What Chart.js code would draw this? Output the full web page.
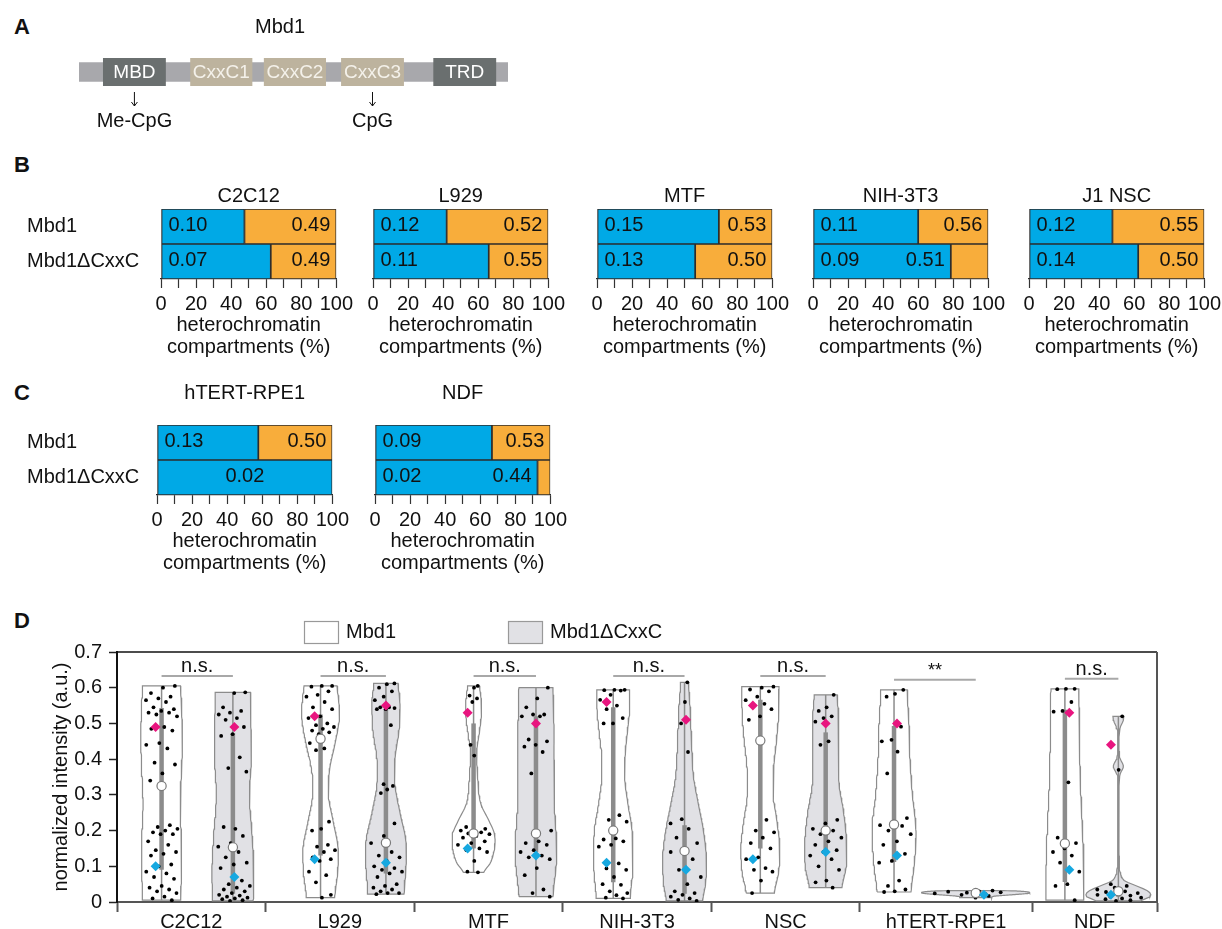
<!DOCTYPE html>
<html>
<head>
<meta charset="utf-8">
<title>Mbd1 heterochromatin compartments</title>
<script src="https://cdn.jsdelivr.net/npm/chart.js@4.4.1/dist/chart.umd.min.js"></script>
<style>
  html, body { margin: 0; padding: 0; background: #fff; }
  body { width: 1222px; height: 929px; position: relative; overflow: hidden;
         font-family: "Liberation Sans", Arial, Helvetica, sans-serif; }
  canvas { position: absolute; }
  .panel { position: absolute; left: 14px; font-weight: bold; font-size: 22px; line-height: 1; color: #111; }
</style>
</head>
<body>
<div class="panel" style="top:16px">A</div>
<div class="panel" style="top:154px">B</div>
<div class="panel" style="top:382px">C</div>
<div class="panel" style="top:610px">D</div>
<script>
// ---- A: Mbd1 domains (residue positions) ----
const proteinLength = 600;
const domainNames = ["MBD", "CxxC1", "CxxC2", "CxxC3", "TRD"];
const domainStart = [34, 156, 259, 367, 496];
const domainEnd = [121, 242, 345, 454, 583];
const domainKind = ["core", "cxxc", "cxxc", "cxxc", "core"];
const bindingDomains = ["MBD", "CxxC3"];
const bindingTargets = ["Me-CpG", "CpG"];

// ---- B / C: heterochromatin compartments ----
const constructs = ["Mbd1", "Mbd1ΔCxxC"];
const barTitles = ["C2C12", "L929", "MTF", "NIH-3T3", "J1 NSC", "hTERT-RPE1", "NDF"];
const lowShareMbd1 = [47.6, 42.0, 69.5, 60.0, 47.6, 57.8, 66.7];
const lowShareDelta = [62.6, 66.0, 56.0, 78.6, 62.3, 100, 92.7];
const lowMeanMbd1 = [0.10, 0.12, 0.15, 0.11, 0.12, 0.13, 0.09];
const lowMeanDelta = [0.07, 0.11, 0.13, 0.09, 0.14, 0.02, 0.02];
const highMeanMbd1 = [0.49, 0.52, 0.53, 0.56, 0.55, 0.50, 0.53];
const highMeanDelta = [0.49, 0.55, 0.50, 0.51, 0.50, null, 0.44];
const shareTicks = [0, 20, 40, 60, 80, 100];

// ---- D: normalized intensity per nucleus ----
const violinGroups = ["C2C12", "L929", "MTF", "NIH-3T3", "NSC", "hTERT-RPE1", "NDF"];
const significance = ["n.s.", "n.s.", "n.s.", "n.s.", "n.s.", "**", "n.s."];
const intensityTicks = [0, 0.1, 0.2, 0.3, 0.4, 0.5, 0.6, 0.7];

const intensityMbd1 = [
  [0.605, 0.60, 0.585, 0.575, 0.57, 0.565, 0.56, 0.545, 0.54, 0.535, 0.53, 0.53, 0.525, 0.52, 0.49, 0.485, 0.48,
   0.445, 0.44, 0.43, 0.39, 0.385, 0.36, 0.34, 0.215, 0.21, 0.205, 0.2, 0.195, 0.19, 0.19, 0.17, 0.16, 0.145,
   0.14, 0.135, 0.13, 0.105, 0.1, 0.085, 0.08, 0.07, 0.065, 0.045, 0.04, 0.035, 0.03, 0.025, 0.015, 0.01, 0.005],
  [0.605, 0.605, 0.603, 0.59, 0.58, 0.575, 0.56, 0.545, 0.54, 0.52, 0.515, 0.5, 0.495, 0.49, 0.485, 0.48, 0.475,
   0.47, 0.445, 0.43, 0.425, 0.225, 0.205, 0.2, 0.16, 0.155, 0.145, 0.14, 0.125, 0.12, 0.115, 0.085, 0.075,
   0.055, 0.02, 0.012],
  [0.605, 0.6, 0.578, 0.57, 0.56, 0.44, 0.41, 0.21, 0.205, 0.2, 0.2, 0.195, 0.192, 0.19, 0.185, 0.18, 0.17,
   0.165, 0.16, 0.15, 0.145, 0.14, 0.115, 0.085, 0.083],
  [0.594, 0.594, 0.593, 0.592, 0.58, 0.566, 0.55, 0.54, 0.515, 0.5, 0.5, 0.243, 0.23, 0.225, 0.178, 0.175,
   0.17, 0.16, 0.155, 0.108, 0.094, 0.09, 0.07, 0.05, 0.048, 0.03, 0.025, 0.019, 0.012, 0.01],
  [0.603, 0.6, 0.595, 0.59, 0.575, 0.565, 0.555, 0.55, 0.54, 0.52, 0.51, 0.23, 0.2, 0.195, 0.18, 0.165, 0.15,
   0.125, 0.12, 0.095, 0.09, 0.085, 0.06, 0.025],
  [0.594, 0.583, 0.575, 0.491, 0.454, 0.45, 0.421, 0.36, 0.235, 0.225, 0.215, 0.213, 0.2, 0.19, 0.17, 0.16,
   0.135, 0.115, 0.11, 0.06, 0.045, 0.035, 0.03, 0.028],
  [0.597, 0.597, 0.596, 0.56, 0.535, 0.533, 0.335, 0.18, 0.165, 0.15, 0.14, 0.13, 0.11, 0.085, 0.05, 0.045, 0.005]
];
const intensityDelta = [
  [0.587, 0.585, 0.545, 0.535, 0.53, 0.525, 0.515, 0.51, 0.49, 0.47, 0.465, 0.405, 0.375, 0.365, 0.205, 0.21,
   0.185, 0.165, 0.155, 0.14, 0.125, 0.11, 0.105, 0.095, 0.06, 0.05, 0.045, 0.04, 0.035, 0.03, 0.025, 0.02,
   0.018, 0.015, 0.012, 0.01, 0.008, 0.005, 0.003],
  [0.612, 0.61, 0.6, 0.59, 0.575, 0.565, 0.545, 0.545, 0.543, 0.54, 0.54, 0.495, 0.33, 0.325, 0.315, 0.305,
   0.22, 0.185, 0.165, 0.14, 0.13, 0.125, 0.115, 0.1, 0.095, 0.09, 0.085, 0.08, 0.07, 0.05, 0.045, 0.04, 0.035,
   0.03, 0.025, 0.025, 0.022],
  [0.6, 0.57, 0.545, 0.525, 0.525, 0.52, 0.52, 0.455, 0.45, 0.44, 0.435, 0.42, 0.36, 0.2, 0.17, 0.165, 0.16,
   0.145, 0.14, 0.13, 0.125, 0.12, 0.095, 0.075, 0.035, 0.025, 0.015],
  [0.615, 0.56, 0.5, 0.42, 0.232, 0.22, 0.205, 0.18, 0.165, 0.15, 0.14, 0.12, 0.09, 0.07, 0.05, 0.03, 0.025,
   0.02, 0.015, 0.01, 0.006, 0.003],
  [0.58, 0.545, 0.535, 0.52, 0.515, 0.505, 0.45, 0.44, 0.23, 0.22, 0.205, 0.2, 0.19, 0.18, 0.17, 0.16, 0.145,
   0.14, 0.13, 0.12, 0.1, 0.09, 0.06, 0.055, 0.04],
  [0.032, 0.03, 0.029, 0.027, 0.026, 0.024, 0.022, 0.02, 0.017, 0.012],
  [0.52, 0.37, 0.05, 0.045, 0.04, 0.035, 0.03, 0.028, 0.025, 0.022, 0.02, 0.018, 0.015, 0.012, 0.01, 0.008,
   0.005, 0.003]
];
const medianMbd1 = [0.325, 0.457, 0.192, 0.200, 0.452, 0.217, 0.164];
const medianDelta = [0.153, 0.166, 0.192, 0.143, 0.200, 0.025, 0.030];
const q1Mbd1 = [0.090, 0.130, 0.150, 0.055, 0.150, 0.112, 0.056];
const q3Mbd1 = [0.543, 0.525, 0.500, 0.545, 0.566, 0.493, 0.538];
const q1Delta = [0.023, 0.080, 0.140, 0.023, 0.136, 0.020, 0.015];
const q3Delta = [0.473, 0.540, 0.520, 0.215, 0.475, 0.030, 0.040];

// density outlines: [intensity, relative half-width]
const profileMbd1 = [
  [[0, .86], [.1, .91], [.2, .89], [.27, .84], [.35, .89], [.45, .95], [.55, .91], [.605, .86]],
  [[.012, .64], [.08, .77], [.15, .8], [.22, .59], [.3, .36], [.37, .41], [.45, .68], [.52, .86], [.57, .82], [.605, .75]],
  [[.081, .45], [.11, .77], [.15, .95], [.19, .95], [.23, .68], [.27, .36], [.3, .25], [.36, .18], [.42, .14],
   [.48, .27], [.53, .36], [.57, .34], [.605, .27]],
  [[.01, .77], [.1, .89], [.2, .86], [.27, .68], [.35, .52], [.42, .55], [.5, .68], [.55, .75], [.593, .74]],
  [[.025, .64], [.08, .82], [.15, .89], [.22, .77], [.3, .59], [.38, .61], [.45, .73], [.52, .82], [.603, .85]],
  [[.028, .77], [.1, .91], [.2, 1], [.3, .84], [.4, .73], [.5, .68], [.594, .6]],
  [[.005, .86], [.1, .86], [.2, .8], [.35, .7], [.5, .66], [.597, .63]]
];
const profileDelta = [
  [[0, .91], [.05, .95], [.1, .95], [.2, .86], [.3, .75], [.4, .84], [.5, .82], [.587, .8]],
  [[.02, .82], [.1, .91], [.17, .91], [.25, .64], [.33, .41], [.4, .41], [.48, .59], [.56, .64], [.612, .55]],
  [[.015, .77], [.1, .91], [.15, .95], [.25, .86], [.4, .82], [.5, .82], [.6, .77]],
  [[0, .82], [.05, .95], [.12, 1], [.2, .86], [.27, .64], [.35, .41], [.45, .32], [.55, .25], [.615, .18]],
  [[.035, .73], [.1, .93], [.17, .95], [.25, .82], [.33, .61], [.45, .59], [.52, .59], [.58, .52]],
  [[.011, .73], [.016, .82], [.02, 1.6], [.024, 2.36], [.028, 2.4], [.031, 1.8], [.033, .45]],
  [[.003, 1], [.015, 1.45], [.03, 1.36], [.045, .82], [.06, .27], [.08, .09], [.12, .03], [.34, .03], [.36, .09],
   [.38, .23], [.4, .09], [.42, .03], [.47, .03], [.49, .09], [.505, .2], [.521, .25]]
];

// ---- layout ----
const barLeft = [161, 373, 597, 813, 1029, 157, 375];
const barTop = [209, 209, 209, 209, 209, 425, 425];
const titleGap = [13, 13, 13, 13, 13, 32, 32];
const barWidth = 178;

const groupEdges = [0, 1, 2, 3, 4, 5, 6.16, 7];
const slotMbd1 = [0.30, 1.37, 2.40, 3.34, 4.33, 5.23, 6.38];
const slotDelta = [0.78, 1.81, 2.82, 3.82, 4.77, 5.78, 6.74];
const markShiftMbd1 = [-0.04, -0.04, -0.04, -0.045, -0.05, 0.02, 0.03];
const markShiftDelta = [0.01, 0, 0, 0.01, 0, 0.055, -0.05];
const sigLevel = [0.633, 0.633, 0.633, 0.633, 0.633, 0.622, 0.625];
const violinHalf = 0.148;

const BLUE = "#00a9e6";
const ORANGE = "#f8ad3b";
const FONT = '"Liberation Sans", Arial, Helvetica, sans-serif';

Chart.defaults.font.family = FONT;
Chart.defaults.font.size = 20;
Chart.defaults.color = "#111";

function addCanvas(left, top, width, height) {
  const c = document.createElement("canvas");
  c.width = width;
  c.height = height;
  c.style.left = left + "px";
  c.style.top = top + "px";
  c.style.width = width + "px";
  c.style.height = height + "px";
  document.body.appendChild(c);
  return c;
}

const baseOptions = {
  responsive: false,
  animation: false,
  events: [],
  plugins: { legend: { display: false }, tooltip: { enabled: false } },
};

// ---------------- A ----------------
const domainLabels = {
  id: "domainLabels",
  afterDatasetsDraw(chart) {
    const ctx = chart.ctx;
    ctx.save();
    ctx.textBaseline = "middle";
    ctx.textAlign = "center";
    ctx.fillStyle = "#111";
    ctx.font = "20px " + FONT;
    ctx.fillText("Mbd1", 280, 27);
    domainNames.forEach((name, k) => {
      const el = chart.getDatasetMeta(k).data[0];
      const cx = (el.x + el.base) / 2;
      ctx.fillStyle = domainKind[k] === "core" ? "#ffffff" : "#f4f1ea";
      ctx.font = "19px " + FONT;
      ctx.fillText(name, cx, el.y + 1);
      const b = bindingDomains.indexOf(name);
      if (b >= 0) {
        ctx.strokeStyle = "#111";
        ctx.lineWidth = 1;
        ctx.beginPath();
        ctx.moveTo(cx, 92);
        ctx.lineTo(cx, 106);
        ctx.moveTo(cx - 3, 102);
        ctx.lineTo(cx, 106);
        ctx.lineTo(cx + 3, 102);
        ctx.stroke();
        ctx.fillStyle = "#111";
        ctx.font = "20px " + FONT;
        ctx.fillText(bindingTargets[b], cx, 121);
      }
    });
    ctx.restore();
  },
};

new Chart(addCanvas(0, 0, 560, 150), {
  type: "bar",
  data: {
    labels: ["Mbd1"],
    datasets: [
      ...domainNames.map((name, k) => ({
        label: name,
        data: [[domainStart[k], domainEnd[k]]],
        backgroundColor: domainKind[k] === "core" ? "#6a6f6f" : "#bdb39e",
        barThickness: 28,
        grouped: false,
      })),
      {
        label: "Mbd1",
        data: [[0, proteinLength]],
        backgroundColor: "#a8a8ac",
        barThickness: 19,
        grouped: false,
      },
    ],
  },
  options: {
    ...baseOptions,
    indexAxis: "y",
    layout: { padding: { left: 79, right: 52, top: 58, bottom: 64 } },
    scales: {
      x: { display: false, min: 0, max: proteinLength },
      y: { display: false },
    },
  },
  plugins: [domainLabels],
});

// ---------------- B / C ----------------
function heteroChart(i) {
  const first = i === 0 || i === 5;
  const padL = first ? 7 : 18;
  const canvasLeft = first ? 20 : barLeft[i] - padL;
  const padT = 45;
  const canvasTop = barTop[i] - padT;
  const width = barLeft[i] + barWidth + 18 - canvasLeft;
  const height = padT + 70 + 80;
  const low = [lowShareMbd1[i], lowShareDelta[i]];
  const lowMean = [lowMeanMbd1[i], lowMeanDelta[i]];
  const highMean = [highMeanMbd1[i], highMeanDelta[i]];

  const valueLabels = {
    id: "valueLabels",
    afterDatasetsDraw(chart) {
      const ctx = chart.ctx;
      const blue = chart.getDatasetMeta(0).data;
      const orange = chart.getDatasetMeta(1).data;
      const area = chart.chartArea;
      ctx.save();
      ctx.font = "20px " + FONT;
      ctx.fillStyle = "#111";
      ctx.textBaseline = "middle";
      ctx.textAlign = "center";
      ctx.fillText(barTitles[i], (area.left + area.right) / 2, area.top - titleGap[i]);
      for (let r = 0; r < 2; r++) {
        const b = blue[r];
        const o = orange[r];
        const y = b.y - 1.5;
        if (highMean[r] == null) {
          ctx.textAlign = "center";
          ctx.fillText(lowMean[r].toFixed(2), (b.base + b.x) / 2, y);
          continue;
        }
        ctx.textAlign = "left";
        ctx.fillText(lowMean[r].toFixed(2), b.base + 7, y);
        const end = o.x - o.base > 45 ? o.x : b.x;
        ctx.textAlign = "right";
        ctx.fillText(highMean[r].toFixed(2), end - 6, y);
      }
      ctx.restore();
    },
  };

  const segment = {
    borderColor: "#2d2d2d",
    borderWidth: 1.2,
    borderSkipped: false,
    barPercentage: 1,
    categoryPercentage: 1,
  };

  new Chart(addCanvas(canvasLeft, canvasTop, width, height), {
    type: "bar",
    data: {
      labels: constructs,
      datasets: [
        { ...segment, label: "low", data: low, backgroundColor: BLUE },
        { ...segment, label: "high", data: low.map((v) => 100 - v), backgroundColor: ORANGE },
      ],
    },
    options: {
      ...baseOptions,
      indexAxis: "y",
      layout: { padding: { left: padL, right: 18, top: padT, bottom: 0 } },
      scales: {
        x: {
          stacked: true,
          min: 0,
          max: 100,
          afterFit: (s) => { s.height = 80; },
          ticks: {
            stepSize: 10,
            autoSkip: false,
            maxRotation: 0,
            padding: 4,
            color: "#111",
            callback: (v) => (shareTicks.includes(v) ? String(v) : ""),
          },
          grid: { drawOnChartArea: false, tickLength: 9, tickColor: "#333", tickWidth: 1.2 },
          border: { color: "#2d2d2d", width: 1.2 },
          title: {
            display: true,
            text: ["heterochromatin", "compartments (%)"],
            font: { size: 20, lineHeight: 1.125 },
            color: "#111",
            padding: 0,
          },
        },
        y: {
          stacked: true,
          display: first,
          afterFit: (s) => { s.width = barLeft[i] - canvasLeft - padL; },
          grid: { display: false },
          border: { display: false },
          ticks: { crossAlign: "far", padding: 0, color: "#111" },
        },
      },
    },
    plugins: [valueLabels],
  });
}
barTitles.forEach((t, i) => heteroChart(i));

// ---------------- D ----------------
function widthAt(knots, y) {
  const n = knots.length;
  if (y <= knots[0][0]) return knots[0][1];
  if (y >= knots[n - 1][0]) return knots[n - 1][1];
  let j = 0;
  while (j < n - 2 && y > knots[j + 1][0]) j++;
  const t = (y - knots[j][0]) / (knots[j + 1][0] - knots[j][0]);
  const p0 = knots[Math.max(j - 1, 0)][1];
  const p1 = knots[j][1];
  const p2 = knots[j + 1][1];
  const p3 = knots[Math.min(j + 2, n - 1)][1];
  const w = 0.5 * (2 * p1 + (-p0 + p2) * t + (2 * p0 - 5 * p1 + 4 * p2 - p3) * t * t +
    (-p0 + 3 * p1 - 3 * p2 + p3) * t * t * t);
  return Math.max(w, 0.02);
}

const violinSets = [];
const GREY = "#8c8c8c";

function addViolin(values, knots, cx, fill, med, q1, q3, lo, hi, shift) {
  const ymin = Math.min(...values);
  const ymax = Math.max(...values);
  const steps = 90;
  const left = [];
  const right = [];
  for (let s = 0; s <= steps; s++) {
    const y = ymin + ((ymax - ymin) * s) / steps;
    const hw = widthAt(knots, y) * violinHalf;
    left.push({ x: cx - hw, y });
    right.unshift({ x: cx + hw, y });
  }
  const outline = [...left, ...right, left[0]];
  violinSets.push({
    data: outline, showLine: true, fill: "shape", backgroundColor: fill,
    borderColor: GREY, borderWidth: 1.2, pointRadius: 0, order: 6,
  });
  violinSets.push({
    data: [{ x: cx, y: ymin }, { x: cx, y: ymax }], showLine: true,
    borderColor: GREY, borderWidth: 1.5, pointRadius: 0, order: 5,
  });
  violinSets.push({
    data: [{ x: cx, y: q1 }, { x: cx, y: q3 }], showLine: true,
    borderColor: GREY, borderWidth: 4.5, borderCapStyle: "butt", pointRadius: 0, order: 5,
  });
  violinSets.push({
    data: values.map((v, k) => {
      const f = (((k + 1) * 0.6180339887 + 0.31) % 1) * 2 - 1;
      return { x: cx + f * 0.82 * widthAt(knots, v) * violinHalf, y: v };
    }),
    pointRadius: 1.9, backgroundColor: "#000", borderWidth: 0, order: 4,
  });
  violinSets.push({
    data: [{ x: cx, y: med }], pointRadius: 4.6, backgroundColor: "#fff",
    borderColor: "#7a7a7a", borderWidth: 1.2, order: 3,
  });
  violinSets.push({
    data: [{ x: cx + shift, y: lo }], pointStyle: "rectRot", pointRadius: 5,
    backgroundColor: "#16a8e0", borderWidth: 0, order: 2,
  });
  if (hi != null) {
    violinSets.push({
      data: [{ x: cx + shift, y: hi }], pointStyle: "rectRot", pointRadius: 5,
      backgroundColor: "#e8157f", borderWidth: 0, order: 2,
    });
  }
}

violinGroups.forEach((g, i) => {
  addViolin(intensityMbd1[i], profileMbd1[i], slotMbd1[i], "#ffffff", medianMbd1[i], q1Mbd1[i], q3Mbd1[i],
    lowMeanMbd1[i], highMeanMbd1[i], markShiftMbd1[i]);
  addViolin(intensityDelta[i], profileDelta[i], slotDelta[i], "#e1e1e5", medianDelta[i], q1Delta[i], q3Delta[i],
    lowMeanDelta[i], highMeanDelta[i], markShiftDelta[i]);
  violinSets.push({
    data: [{ x: slotMbd1[i], y: sigLevel[i] }, { x: slotDelta[i], y: sigLevel[i] }], showLine: true,
    borderColor: "#a8a8a8", borderWidth: 2, pointRadius: 0, order: 6,
  });
});

const groupCenters = violinGroups.map((g, i) => (groupEdges[i] + groupEdges[i + 1]) / 2);
const xTickValues = [...groupEdges, ...groupCenters].sort((a, b) => a - b);
const isEdge = (v) => groupEdges.some((e) => Math.abs(e - v) < 1e-6);

const violinDecor = {
  id: "violinDecor",
  afterDatasetsDraw(chart) {
    const { ctx, chartArea: a } = chart;
    const xs = chart.scales.x;
    const ys = chart.scales.y;
    ctx.save();
    // box frame: top and right sides
    ctx.strokeStyle = "#111";
    ctx.lineWidth = 1.5;
    ctx.beginPath();
    ctx.moveTo(a.left, a.top);
    ctx.lineTo(a.right, a.top);
    ctx.stroke();
    ctx.strokeStyle = "#555";
    ctx.lineWidth = 2;
    ctx.beginPath();
    ctx.moveTo(a.right, a.top);
    ctx.lineTo(a.right, a.bottom);
    ctx.stroke();
    // significance labels
    ctx.fillStyle = "#111";
    ctx.textAlign = "center";
    ctx.textBaseline = "middle";
    violinGroups.forEach((g, i) => {
      const x = (xs.getPixelForValue(slotMbd1[i]) + xs.getPixelForValue(slotDelta[i])) / 2;
      const y = ys.getPixelForValue(sigLevel[i] + 0.026);
      ctx.font = (significance[i] === "**" ? "18px " : "20px ") + FONT;
      ctx.fillText(significance[i], x, y);
    });
    // legend
    const keys = [["Mbd1", "#ffffff", 304], ["Mbd1ΔCxxC", "#e1e1e5", 508]];
    ctx.font = "20px " + FONT;
    ctx.textAlign = "left";
    keys.forEach(([label, fill, x]) => {
      ctx.fillStyle = fill;
      ctx.fillRect(x, 21, 34, 22);
      ctx.strokeStyle = "#999";
      ctx.lineWidth = 1.2;
      ctx.strokeRect(x + 0.5, 21.5, 34, 22);
      ctx.fillStyle = "#111";
      ctx.fillText(label, x + 42, 32);
    });
    ctx.restore();
  },
};

new Chart(addCanvas(0, 600, 1222, 329), {
  type: "scatter",
  data: { datasets: violinSets },
  options: {
    ...baseOptions,
    layout: { padding: { left: 45, right: 65, top: 52, bottom: 0 } },
    scales: {
      x: {
        type: "linear",
        min: 0,
        max: 7,
        afterBuildTicks: (s) => { s.ticks = xTickValues.map((v) => ({ value: v })); },
        afterFit: (s) => { s.height = 27; },
        ticks: {
          autoSkip: false,
          maxRotation: 0,
          padding: -2,
          color: "#111",
          callback: (v) => {
            const g = groupCenters.findIndex((c) => Math.abs(c - v) < 1e-6);
            return g >= 0 ? violinGroups[g] : "";
          },
        },
        grid: {
          drawOnChartArea: false,
          tickLength: 10,
          tickWidth: 2,
          tickColor: (c) => (c.tick && isEdge(c.tick.value) ? "#555" : "rgba(0,0,0,0)"),
        },
        border: { color: "#555", width: 2 },
      },
      y: {
        min: 0,
        max: 0.7,
        afterBuildTicks: (s) => { s.ticks = intensityTicks.map((v) => ({ value: v })); },
        afterFit: (s) => { s.width = 72; },
        ticks: { padding: 7, color: "#111", callback: (v) => (v === 0 ? "0" : v.toFixed(1)) },
        grid: { drawOnChartArea: false, tickLength: 8, tickWidth: 1.5, tickColor: "#222" },
        border: { color: "#111", width: 2 },
        title: {
          display: true,
          text: "normalized intensity (a.u.)",
          color: "#111",
          padding: { top: 4, bottom: 0 },
        },
      },
    },
  },
  plugins: [violinDecor],
});
</script>
</body>
</html>
